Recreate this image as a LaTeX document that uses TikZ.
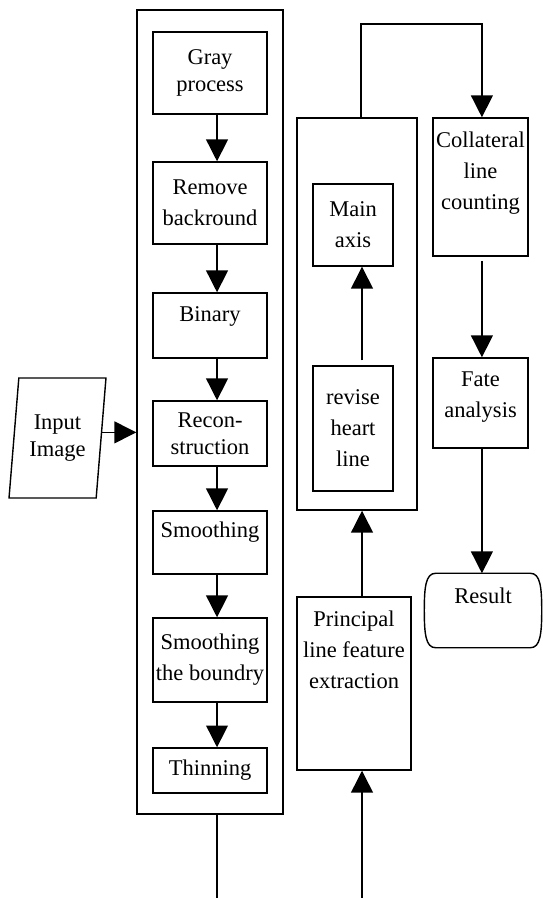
\documentclass[tikz,border=0pt]{standalone}
\usepackage{fontspec}
\setmainfont{Liberation Serif}
\usetikzlibrary{arrows.meta, positioning, shapes.geometric}

\begin{document}
\begin{tikzpicture}[x=0.025cm, y=-0.025cm, line width=1pt,
			every node/.style={align=center, font=\fontsize{16}{22}\selectfont},
			box/.style={draw, rectangle, inner sep=0pt},
			txt/.style={inner sep=0pt},
			tight/.style={font=\fontsize{16}{19}\selectfont},
			arr/.style={-{Triangle[width=15.5pt, length=15.5pt]}}]
			\useasboundingbox (0,0) rectangle (542,898);

			\node[box, minimum width=3.65cm, minimum height=20.1cm] (prep) at (210,412) {};
			\node[box, tight, minimum width=2.85cm, minimum height=2.05cm] (gray) at (210,73) {Gray\\process};
			\node[box, minimum width=2.85cm, minimum height=2.05cm] (remove) at (210,203) {Remove\\backround};
			\node[box, minimum width=2.85cm, minimum height=1.625cm] (binary) at (210,325.5) {};
			\node[txt, below=10pt of binary.north] (binary-t) {Binary};
			\node[box, tight, minimum width=2.85cm, minimum height=1.625cm] (recon) at (210,433.5) {Recon-\\struction};
			\node[box, minimum width=2.85cm, minimum height=1.575cm] (smooth) at (210,542.5) {};
			\node[txt, below=8pt of smooth.north] (smooth-t) {Smoothing};
			\node[box, minimum width=2.85cm, minimum height=2.1cm] (bound) at (210,660) {Smoothing\\the boundry};
			\node[box, minimum width=2.85cm, minimum height=1.125cm] (thin) at (210,770.5) {Thinning};

			\node[draw, trapezium, trapezium left angle=81.5, trapezium right angle=98.5,
				trapezium stretches=true, tight, minimum width=2.425cm, minimum height=3cm] (input) at (57.5,438) {Input\\Image};

			\node[box, minimum width=3cm, minimum height=9.8cm] (feat) at (357,314) {};
			\node[box, minimum width=2cm, minimum height=2.05cm] (axis) at (353,225) {Main\\axis};
			\node[box, minimum width=2cm, minimum height=3.125cm] (revise) at (353,428.5) {revise\\heart\\line};
			\node[box, minimum width=2.85cm, minimum height=4.325cm] (princ) at (354,683.5) {};
			\node[txt, below=10pt of princ.north] (princ-t) {Principal\\line feature\\extraction};

			\node[box, minimum width=2.375cm, minimum height=3.45cm] (coll) at (480.5,187) {};
			\node[txt, below=10pt of coll.north] (coll-t) {Collateral\\line\\counting};
			\node[box, minimum width=2.375cm, minimum height=2.25cm] (fate) at (480.5,403) {};
			\node[txt, below=10pt of fate.north] (fate-t) {Fate\\analysis};
			\node[inner sep=0pt, minimum width=2.9cm, minimum height=1.825cm] (result) at (483,610.5) {};
			\node[txt, below=10pt of result.north] (result-t) {Result};
			\draw ([xshift=8pt]result.north west) -- ([xshift=-8pt]result.north east)
				.. controls ([xshift=-1pt]result.north east) and ([yshift=-10pt]result.north east) .. (result.east)
				.. controls ([yshift=10pt]result.south east) and ([xshift=-1pt]result.south east) .. ([xshift=-8pt]result.south east)
				-- ([xshift=8pt]result.south west)
				.. controls ([xshift=1pt]result.south west) and ([yshift=10pt]result.south west) .. (result.west)
				.. controls ([yshift=-10pt]result.north west) and ([xshift=1pt]result.north west) .. cycle;

			\coordinate (top) at (361,24);
			\coordinate (prep-out) at (217,898);
			\coordinate (princ-in) at (362,898);

			\draw[arr] ([yshift=4pt]input.east) -- ([yshift=4pt]input.east -| prep.west);
			\draw[arr] ([xshift=5pt]gray.south) -- ([xshift=5pt]remove.north);
			\draw[arr] ([xshift=5pt]remove.south) -- ([xshift=5pt]binary.north);
			\draw[arr] ([xshift=5pt]binary.south) -- ([xshift=5pt]recon.north);
			\draw[arr] ([xshift=5pt]recon.south) -- ([xshift=5pt]smooth.north);
			\draw[arr] ([xshift=5pt]smooth.south) -- ([xshift=5pt]bound.north);
			\draw[arr] ([xshift=5pt]bound.south) -- ([xshift=5pt]thin.north);
			\draw (prep-out |- prep.south) -- (prep-out);

			\draw[arr, shorten <=3.5pt] ([xshift=6.4pt]revise.north) -- ([xshift=6.4pt]axis.south);
			\draw[arr] (princ-in) -- (princ-in |- princ.south);
			\draw[arr] ([xshift=5.7pt]princ.north) -- ([xshift=5.7pt]princ.north |- feat.south);
			\draw[arr] (top |- feat.north) -- (top) -| ([xshift=1pt]coll.north);
			\draw[arr, shorten <=3pt] ([xshift=1pt]coll.south) -- ([xshift=1pt]fate.north);
			\draw[arr] ([xshift=1pt]fate.south) -- ([xshift=1pt]fate.south |- result.north);
		\end{tikzpicture}
\end{document}
